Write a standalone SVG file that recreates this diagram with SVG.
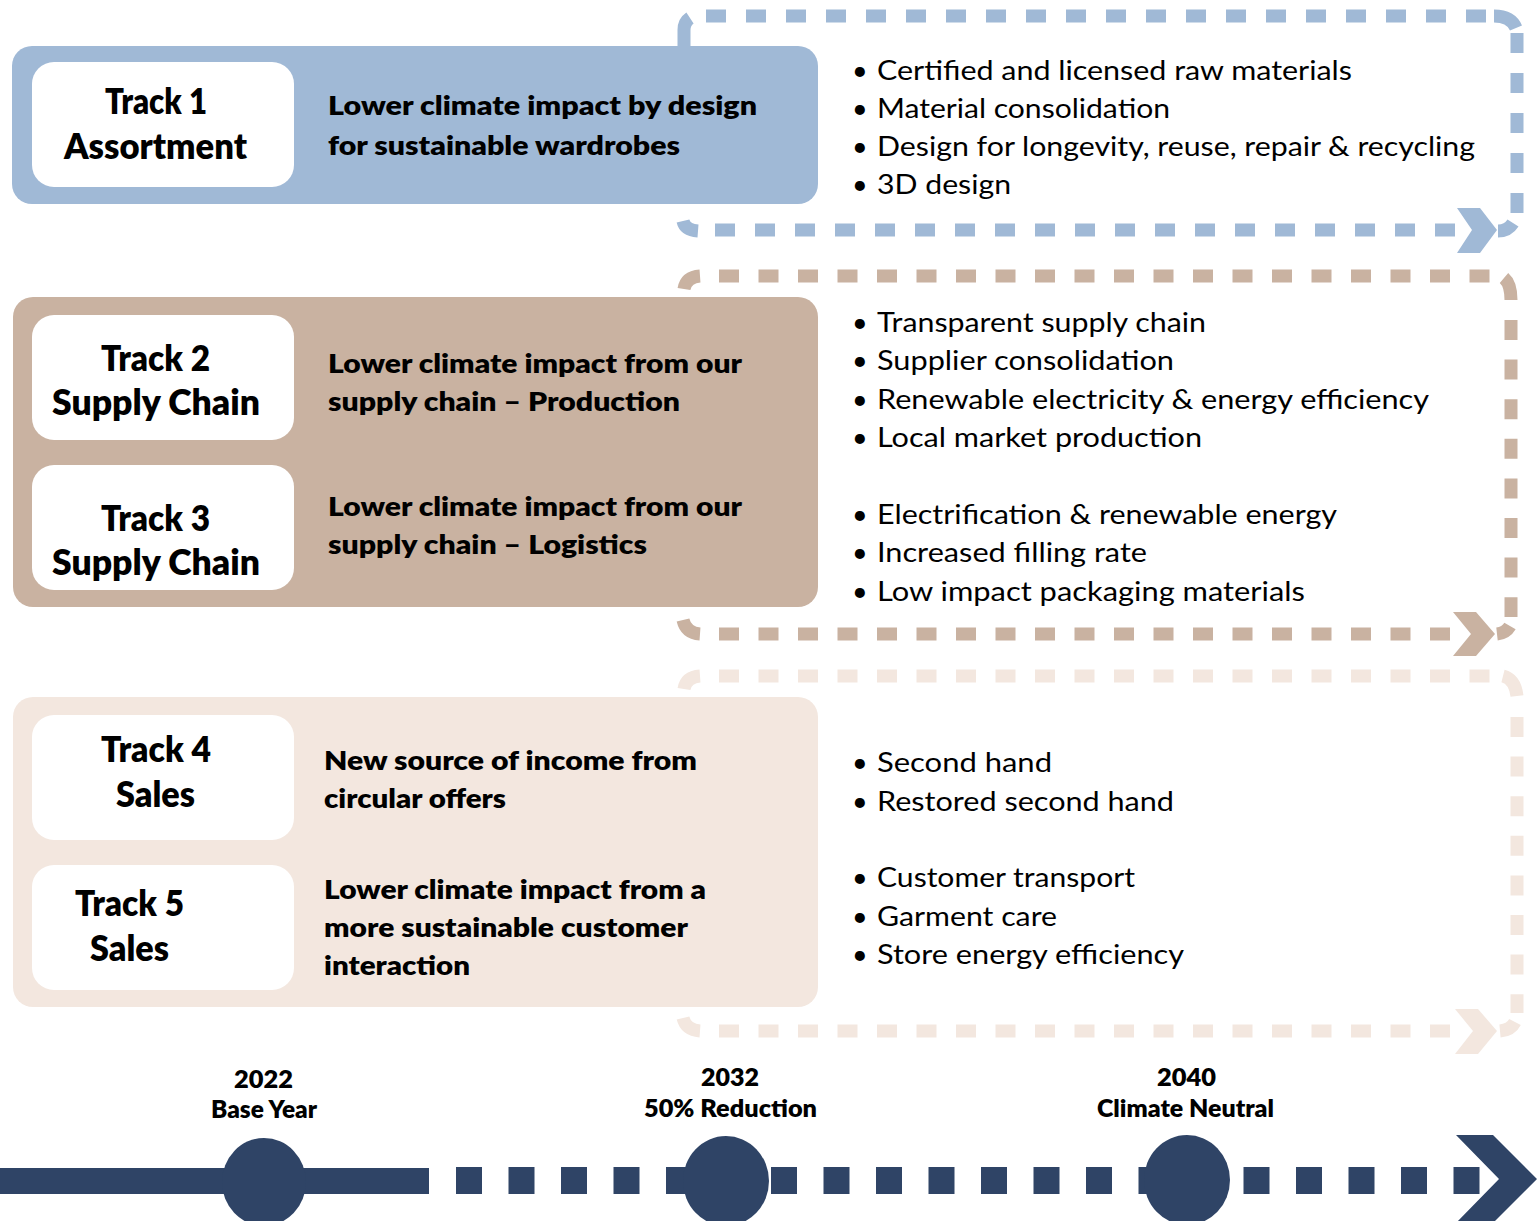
<svg xmlns="http://www.w3.org/2000/svg" width="1540" height="1221" viewBox="0 0 1540 1221">
<style>
.bg{fill:#ffffff}
.p1{fill:#a0b9d6}
.p2{fill:#c9b2a1}
.p3{fill:#f3e7df}
.wbox{fill:#ffffff}
.trk{font-family:Lato,"Liberation Sans",sans-serif;font-weight:800;font-size:35px;fill:#000}
.desc{font-family:Lato,"Liberation Sans",sans-serif;font-weight:800;font-size:27px;fill:#000}
.bul{font-family:Lato,"Liberation Sans",sans-serif;font-weight:400;font-size:27px;fill:#000}
.yr{font-family:Lato,"Liberation Sans",sans-serif;font-weight:800;font-size:25px;fill:#000}
.l1{stroke:#a0b9d6;stroke-width:13;fill:none}
.l2{stroke:#c9b2a1;stroke-width:13;fill:none}
.l3{stroke:#f3e7df;stroke-width:13;fill:none}
.dash{stroke-dasharray:20 19.5}
.navy{fill:#2f4466}
</style>
<rect class="bg" x="0" y="0" width="1540" height="1221"/>

<g id="connectors">
  <!-- loop 1 -->
  <g id="loop1">
    <path class="l1" d="M 684 47 L 684 30 Q 684 22 690 18"/>
    <line class="l1" x1="706" y1="16" x2="1488" y2="16" style="stroke-dasharray:20 20"/>
    <path class="l1" d="M 1494 16 Q 1511 16 1516 28"/>
    <line class="l1" x1="1517" y1="33" x2="1517" y2="214" style="stroke-dasharray:20 20"/>
    <path class="l1" d="M 1498 231 Q 1508 231 1513 223"/>
    <line class="l1" x1="715" y1="230" x2="1455" y2="230" style="stroke-dasharray:20 20"/>
    <path class="l1" d="M 683 221 Q 685 230 698 231"/>
    <polygon fill="#a0b9d6" points="1457,208 1480,208 1497,230 1480,253 1457,253 1472,230"/>
  </g>
  <!-- loop 2 -->
  <g id="loop2">
    <path class="l2" d="M 684 289 Q 686 277 700 276"/>
    <line class="l2 dash" x1="719" y1="276" x2="1490" y2="276"/>
    <path class="l2" d="M 1504 278 Q 1511 284 1511 300"/>
    <line class="l2" x1="1511" y1="320" x2="1511" y2="617" style="stroke-dasharray:20 19.6"/>
    <path class="l2" d="M 1497 634 Q 1506 633 1510 626"/>
    <line class="l2 dash" x1="719" y1="634" x2="1452" y2="634"/>
    <path class="l2" d="M 683 620 Q 686 633 700 634"/>
    <polygon fill="#c9b2a1" points="1453,612 1476,612 1495,634 1476,656 1453,656 1471,634"/>
  </g>
  <!-- loop 3 -->
  <g id="loop3">
    <path class="l3" d="M 684 689 Q 686 677 700 676"/>
    <line class="l3 dash" x1="719" y1="676" x2="1490" y2="676"/>
    <path class="l3" d="M 1503 676 Q 1515 679 1517 696"/>
    <line class="l3" x1="1517" y1="717" x2="1517" y2="1013" style="stroke-dasharray:20 19.6"/>
    <path class="l3" d="M 1500 1031 Q 1511 1030 1515 1022"/>
    <line class="l3 dash" x1="719" y1="1031" x2="1452" y2="1031"/>
    <path class="l3" d="M 683 1018 Q 686 1030 700 1031"/>
    <polygon fill="#f3e7df" points="1455,1009 1478,1009 1497,1031 1478,1054 1455,1054 1473,1031"/>
  </g>
</g>

<!-- Panel 1 -->
<g id="panel-assortment">
  <rect class="p1" x="12" y="46" width="806" height="158" rx="20"/>
  <g id="track1">
    <rect class="wbox" x="32" y="62" width="262" height="125" rx="22"/>
    <text class="trk" x="105" y="114" textLength="102" lengthAdjust="spacingAndGlyphs">Track 1</text>
    <text class="trk" x="64" y="159" textLength="183" lengthAdjust="spacingAndGlyphs">Assortment</text>
  </g>
  <g id="desc1">
    <text class="desc" x="328" y="115" textLength="429" lengthAdjust="spacingAndGlyphs">Lower climate impact by design</text>
    <text class="desc" x="328" y="155" textLength="352" lengthAdjust="spacingAndGlyphs">for sustainable wardrobes</text>
  </g>
  <g id="list1">
    <text class="bul" x="852" y="80">•</text>
    <text class="bul" x="877" y="80" textLength="475" lengthAdjust="spacingAndGlyphs">Certified and licensed raw materials</text>
    <text class="bul" x="852" y="118">•</text>
    <text class="bul" x="877" y="118" textLength="293" lengthAdjust="spacingAndGlyphs">Material consolidation</text>
    <text class="bul" x="852" y="156">•</text>
    <text class="bul" x="877" y="156" textLength="598" lengthAdjust="spacingAndGlyphs">Design for longevity, reuse, repair &amp; recycling</text>
    <text class="bul" x="852" y="194">•</text>
    <text class="bul" x="877" y="194" textLength="134" lengthAdjust="spacingAndGlyphs">3D design</text>
  </g>
</g>

<!-- Panel 2 -->
<g id="panel-supply">
  <rect class="p2" x="13" y="297" width="805" height="310" rx="20"/>
  <g id="track2">
    <rect class="wbox" x="32" y="315" width="262" height="125" rx="22"/>
    <text class="trk" x="101" y="371" textLength="109" lengthAdjust="spacingAndGlyphs">Track 2</text>
    <text class="trk" x="52" y="415" textLength="208" lengthAdjust="spacingAndGlyphs">Supply Chain</text>
  </g>
  <g id="track3">
    <rect class="wbox" x="32" y="465" width="262" height="125" rx="22"/>
    <text class="trk" x="101" y="531" textLength="109" lengthAdjust="spacingAndGlyphs">Track 3</text>
    <text class="trk" x="52" y="575" textLength="208" lengthAdjust="spacingAndGlyphs">Supply Chain</text>
  </g>
  <g id="desc2">
    <text class="desc" x="328" y="373" textLength="414" lengthAdjust="spacingAndGlyphs">Lower climate impact from our</text>
    <text class="desc" x="328" y="411" textLength="352" lengthAdjust="spacingAndGlyphs">supply chain – Production</text>
  </g>
  <g id="desc3">
    <text class="desc" x="328" y="516" textLength="414" lengthAdjust="spacingAndGlyphs">Lower climate impact from our</text>
    <text class="desc" x="328" y="554" textLength="319" lengthAdjust="spacingAndGlyphs">supply chain – Logistics</text>
  </g>
  <g id="list2">
    <text class="bul" x="852" y="332">•</text>
    <text class="bul" x="877" y="332" textLength="329" lengthAdjust="spacingAndGlyphs">Transparent supply chain</text>
    <text class="bul" x="852" y="370">•</text>
    <text class="bul" x="877" y="370" textLength="297" lengthAdjust="spacingAndGlyphs">Supplier consolidation</text>
    <text class="bul" x="852" y="409">•</text>
    <text class="bul" x="877" y="409" textLength="552" lengthAdjust="spacingAndGlyphs">Renewable electricity &amp; energy efficiency</text>
    <text class="bul" x="852" y="447">•</text>
    <text class="bul" x="877" y="447" textLength="325" lengthAdjust="spacingAndGlyphs">Local market production</text>
  </g>
  <g id="list3">
    <text class="bul" x="852" y="524">•</text>
    <text class="bul" x="877" y="524" textLength="460" lengthAdjust="spacingAndGlyphs">Electrification &amp; renewable energy</text>
    <text class="bul" x="852" y="562">•</text>
    <text class="bul" x="877" y="562" textLength="270" lengthAdjust="spacingAndGlyphs">Increased filling rate</text>
    <text class="bul" x="852" y="601">•</text>
    <text class="bul" x="877" y="601" textLength="428" lengthAdjust="spacingAndGlyphs">Low impact packaging materials</text>
  </g>
</g>

<!-- Panel 3 -->
<g id="panel-sales">
  <rect class="p3" x="13" y="697" width="805" height="310" rx="20"/>
  <g id="track4">
    <rect class="wbox" x="32" y="715" width="262" height="125" rx="22"/>
    <text class="trk" x="101" y="762" textLength="110" lengthAdjust="spacingAndGlyphs">Track 4</text>
    <text class="trk" x="116" y="807" textLength="79" lengthAdjust="spacingAndGlyphs">Sales</text>
  </g>
  <g id="track5">
    <rect class="wbox" x="32" y="865" width="262" height="125" rx="22"/>
    <text class="trk" x="75" y="916" textLength="109" lengthAdjust="spacingAndGlyphs">Track 5</text>
    <text class="trk" x="90" y="961" textLength="79" lengthAdjust="spacingAndGlyphs">Sales</text>
  </g>
  <g id="desc4">
    <text class="desc" x="324" y="770" textLength="373" lengthAdjust="spacingAndGlyphs">New source of income from</text>
    <text class="desc" x="324" y="808" textLength="182" lengthAdjust="spacingAndGlyphs">circular offers</text>
  </g>
  <g id="desc5">
    <text class="desc" x="324" y="899" textLength="382" lengthAdjust="spacingAndGlyphs">Lower climate impact from a</text>
    <text class="desc" x="324" y="937" textLength="364" lengthAdjust="spacingAndGlyphs">more sustainable customer</text>
    <text class="desc" x="324" y="975" textLength="146" lengthAdjust="spacingAndGlyphs">interaction</text>
  </g>
  <g id="list4">
    <text class="bul" x="852" y="772">•</text>
    <text class="bul" x="877" y="772" textLength="175" lengthAdjust="spacingAndGlyphs">Second hand</text>
    <text class="bul" x="852" y="811">•</text>
    <text class="bul" x="877" y="811" textLength="297" lengthAdjust="spacingAndGlyphs">Restored second hand</text>
  </g>
  <g id="list5">
    <text class="bul" x="852" y="887">•</text>
    <text class="bul" x="877" y="887" textLength="258" lengthAdjust="spacingAndGlyphs">Customer transport</text>
    <text class="bul" x="852" y="926">•</text>
    <text class="bul" x="877" y="926" textLength="180" lengthAdjust="spacingAndGlyphs">Garment care</text>
    <text class="bul" x="852" y="964">•</text>
    <text class="bul" x="877" y="964" textLength="307" lengthAdjust="spacingAndGlyphs">Store energy efficiency</text>
  </g>
</g>

<!-- Timeline -->
<g id="timeline">
  <rect class="navy" x="0" y="1168" width="429" height="26"/>
  <line x1="456" y1="1180.5" x2="1480" y2="1180.5" stroke="#2f4466" stroke-width="27" stroke-dasharray="26 26.5"/>
  <polygon class="navy" points="1456,1135 1493,1135 1537,1179 1493,1223 1456,1223 1499,1179"/>
  <g id="m2022">
    <ellipse class="navy" cx="264" cy="1182" rx="42" ry="44"/>
    <text class="yr" x="234" y="1088" textLength="59" lengthAdjust="spacingAndGlyphs">2022</text>
    <text class="yr" x="211" y="1118" textLength="106" lengthAdjust="spacingAndGlyphs">Base Year</text>
  </g>
  <g id="m2032">
    <ellipse class="navy" cx="726" cy="1181" rx="43" ry="45"/>
    <text class="yr" x="701" y="1086" textLength="58" lengthAdjust="spacingAndGlyphs">2032</text>
    <text class="yr" x="644" y="1117" textLength="173" lengthAdjust="spacingAndGlyphs">50% Reduction</text>
  </g>
  <g id="m2040">
    <ellipse class="navy" cx="1187" cy="1180" rx="43" ry="45"/>
    <text class="yr" x="1157" y="1086" textLength="59" lengthAdjust="spacingAndGlyphs">2040</text>
    <text class="yr" x="1097" y="1117" textLength="177" lengthAdjust="spacingAndGlyphs">Climate Neutral</text>
  </g>
</g>
</svg>
